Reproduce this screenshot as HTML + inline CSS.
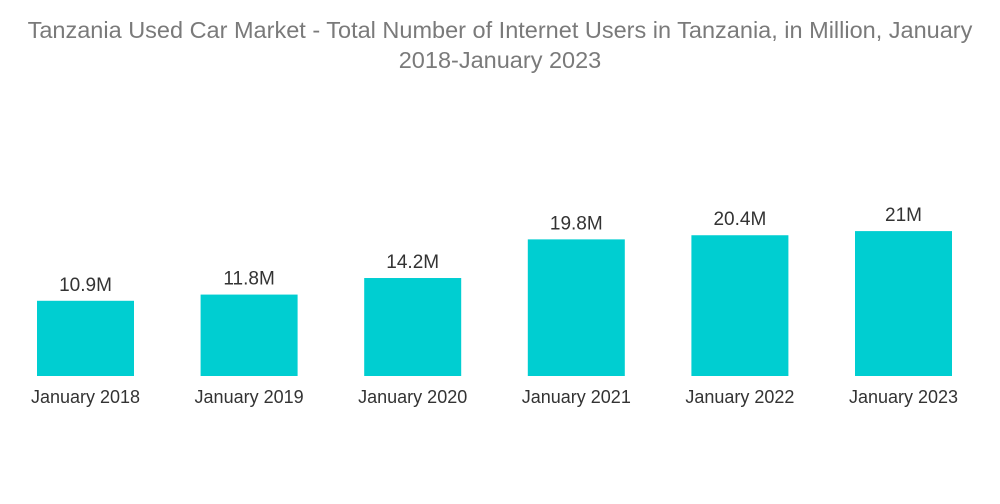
<!DOCTYPE html>
<html><head><meta charset="utf-8"><style>
body{margin:0;background:#fff;width:1000px;height:504px;overflow:hidden;font-family:"Liberation Sans",sans-serif}
#title{position:absolute;left:0;top:15px;width:1000px;text-align:center;color:#7a7a7a;font-size:23.5px;line-height:30px}
svg{position:absolute;left:0;top:0}
</style></head><body>
<div id="title">Tanzania Used Car Market - Total Number of Internet Users in Tanzania, in Million, January<br>2018-January 2023</div>
<svg id="chart" width="1000" height="504"></svg>
<script>
const categories=["January 2018","January 2019","January 2020","January 2021","January 2022","January 2023"];
const values=[10.9,11.8,14.2,19.8,20.4,21];
const valueLabels=["10.9M","11.8M","14.2M","19.8M","20.4M","21M"];
const svg=document.getElementById('chart');
const NS='http://www.w3.org/2000/svg';
const baseY=376, pxPerUnit=6.9, x0=37, step=163.6, bw=97;
const xPos=i=>x0+i*step;
const yPos=v=>baseY-v*pxPerUnit;
values.forEach((v,i)=>{
  const r=document.createElementNS(NS,'rect');
  r.setAttribute('x',xPos(i));r.setAttribute('y',yPos(v));
  r.setAttribute('width',bw);r.setAttribute('height',baseY-yPos(v));
  r.setAttribute('fill','#00ced1');
  
  
  svg.appendChild(r);
  const t=document.createElementNS(NS,'text');
  t.setAttribute('x',xPos(i)+bw/2);t.setAttribute('y',yPos(v)-10);
  t.setAttribute('text-anchor','middle');t.setAttribute('font-size','19');t.setAttribute('fill','#333');
  t.textContent=valueLabels[i];
  
  
  svg.appendChild(t);
  const c=document.createElementNS(NS,'text');
  c.setAttribute('x',xPos(i)+bw/2);c.setAttribute('y',403);
  c.setAttribute('text-anchor','middle');c.setAttribute('font-size','18');c.setAttribute('fill','#333');
  c.textContent=categories[i];
  
  
  svg.appendChild(c);
});
</script>
</body></html>
